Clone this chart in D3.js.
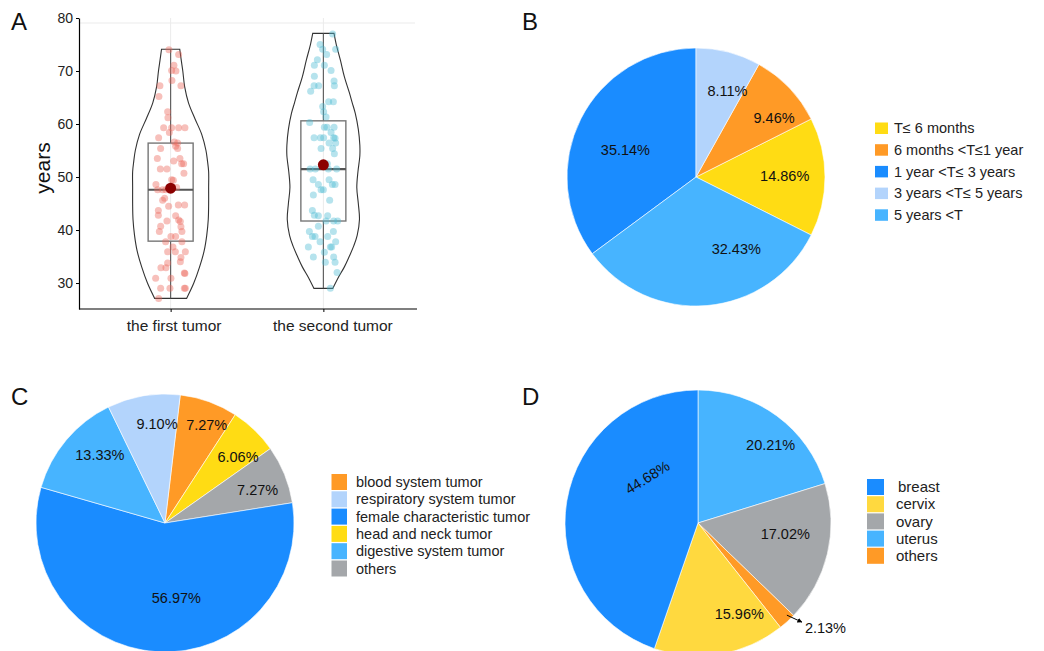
<!DOCTYPE html>
<html>
<head>
<meta charset="utf-8">
<script src="https://cdn.jsdelivr.net/npm/d3@7"></script>
<style>
  body { margin: 0; background: #fff; }
  svg { font-family: "Liberation Sans", Arial, Helvetica, sans-serif; }
</style>
</head>
<body>
<svg id="chart" width="1044" height="651"></svg>
<script>
// ---------- data ----------
const groups = ["the first tumor", "the second tumor"];

// ages of the 74 patients, first and second tumor
const firstAges = [74.0,73.1,71.1,70.1,70.0,67.2,67.2,68.2,65.2,62.3,61.2,59.3,59.3,59.3,59.3,58.4,57.4,56.6,56.4,55.8,
  55.4,55.4,53.5,53.5,52.5,52.5,51.5,51.5,50.7,49.5,49.4,48.6,47.6,47.6,47.6,45.6,44.7,44.7,43.7,42.8,
  41.7,42.7,41.9,41.6,40.7,40.6,39.7,39.7,38.8,38.8,37.8,37.8,36.8,35.9,35.9,35.9,34.8,34.0,33.8,32.9,
  32.9,31.9,31.8,30.9,30.9,29.0,29.0,29.0,29.0,27.1,53.0,44.5,48.0,46.0];
const secondAges = [77.0,75.0,74.1,74.1,73.1,72.1,71.1,71.1,70.1,69.0,68.1,67.2,67.2,67.2,66.2,64.2,64.2,63.3,62.3,61.3,
  60.3,59.4,59.4,59.4,58.4,57.4,57.4,57.4,57.4,57.3,56.4,56.4,55.4,55.4,54.4,51.5,51.5,51.5,51.5,49.5,
  49.5,48.6,48.6,48.6,47.6,47.6,46.6,45.6,43.7,42.8,42.7,42.7,41.7,41.7,41.7,40.7,39.7,39.7,38.8,38.8,
  38.8,37.8,37.8,36.8,36.8,36.8,35.8,34.9,34.9,33.9,33.9,32.0,29.0,52.5];

// horizontal jitter of each dot as drawn (px)
const firstJitter = [-1.7,8,3.3,1,5.3,-10.7,10.3,1.3,-11.7,-3,-2.7,-7,1,8,14.3,-1.3,-12,3.7,7,5,
  7,-10,-13.3,9.3,11,13,-10.3,-3.7,13.3,1,2.7,-14.7,-13,-8,-4.7,-8,7.7,14,-12.3,-12.3,
  -3.7,5,8,9.7,-10,10.3,-11.3,11.3,0.3,5,-5,11.3,2.3,-3,4.7,14.7,10.3,9.7,-3,-9.7,
  -4.7,13.7,14.3,-15,0.3,-10,-0.7,13.7,14.7,-12,3,-2,6,-6];
const secondJitter = [9.3,-3.3,-0.7,12.3,3.3,-6,-9,1,7.7,-9,10.7,-9.3,-4.7,11,-12.7,5.3,10,-0.7,0.3,2.7,
  -13.7,1,3.7,10.7,7.7,-9.3,-3,0.3,10.3,11.7,5.7,12.3,-2.3,9.3,11,-13.3,-8,5,13.3,-10.3,
  5.7,-5,9,11.7,-2.3,0,-10,6.3,-11,-9,-5,4.3,10.3,14.3,2.7,-5,-14,10,-11,-8.3,
  4.3,-3.3,12.3,-15,7,8.3,1,-10,10.3,2,11.7,13.7,7,4];

// violin outlines: age and relative density (1 = widest)
const firstViolinAges = [27.1,30,33,36,39,42,45,48,51,53,55,58,61,64,67,70,72,74.1];
const firstViolinDens = [0.42,0.61,0.76,0.88,0.95,0.99,1,1,1,0.97,0.93,0.82,0.64,0.47,0.37,0.32,0.28,0.24];
const secondViolinAges = [29,31,33,35,37,39,42,45,48,51,54,56,59,62,64,66,69,72,75,77.1];
const secondViolinDens = [0.25,0.39,0.55,0.68,0.80,0.89,0.95,0.92,0.88,0.91,0.96,0.96,0.92,0.84,0.76,0.68,0.55,0.45,0.34,0.28];

// box plot statistics
const boxMin = [27.1, 29.0];
const boxQ1 = [37.9, 41.7];
const boxMedian = [47.6, 51.5];
const boxQ3 = [56.4, 60.6];
const boxMax = [74.1, 77.1];
const boxMean = [47.9, 52.3];
const yTicks = [30, 40, 50, 60, 70, 80];

// B: time between the two tumors (%)
const durationLabels = ["T\u2264 6 months", "6 months <T\u22641 year", "1 year <T\u2264 3 years", "3 years <T\u2264 5 years", "5 years <T"];
const durationValues = [14.86, 9.46, 35.14, 8.11, 32.43];

// C: type of the first tumor (%)
const tumorLabels = ["blood system tumor", "respiratory system tumor", "female characteristic tumor", "head and neck tumor", "digestive system tumor", "others"];
const tumorValues = [7.27, 9.10, 56.97, 6.06, 13.33, 7.27];

// D: female characteristic tumors (%)
const femaleLabels = ["breast", "cervix", "ovary", "uterus", "others"];
const femaleValues = [44.68, 15.96, 17.02, 20.21, 2.13];

// ---------- colours ----------
const BLUE = "#1a8cff", SKY = "#47b4ff", LIGHT = "#b3d4fc", ORANGE = "#ff9a26",
      YELLOW = "#ffdc14", GREY = "#a4a7aa", YELLOW_D = "#ffd93f";

const svg = d3.select("#chart");

// ================= Panel A: violin + box + jitter =================
const y = d3.scaleLinear().domain([25.1, 80]).range([309, 18]);
const x = d3.scalePoint().domain(groups).range([79, 415]).padding(0.6);
const w = d3.scaleLinear().domain([0, 1]).range([0, 38]);

const gA = svg.append("g");

// light grid
gA.append("line").attr("x1", 79).attr("x2", 415).attr("y1", 23).attr("y2", 23)
  .attr("stroke", "#ebebeb");
groups.forEach(gname => {
  gA.append("line").attr("x1", x(gname)).attr("x2", x(gname)).attr("y1", 18).attr("y2", 309)
    .attr("stroke", "#ebebeb");
});

const violins = [
  {ages: firstViolinAges, dens: firstViolinDens},
  {ages: secondViolinAges, dens: secondViolinDens}
];
const dots = [
  {ages: firstAges, jit: firstJitter, color: "#ec6a5e"},
  {ages: secondAges, jit: secondJitter, color: "#52bdd5"}
];

groups.forEach((gname, i) => {
  const cx = x(gname);
  const prof = violins[i].ages.map((a, k) => ({age: a, d: violins[i].dens[k]}));
  const area = d3.area()
    .y(d => y(d.age))
    .x0(d => cx - w(d.d))
    .x1(d => cx + w(d.d))
    .curve(d3.curveCatmullRom);
  gA.append("path").attr("d", area(prof))
    .attr("fill", "none").attr("stroke", "#333").attr("stroke-width", 1.1);

  // whiskers
  gA.append("line").attr("x1", cx).attr("x2", cx).attr("y1", y(boxMax[i])).attr("y2", y(boxQ3[i]))
    .attr("stroke", "#555").attr("stroke-width", 1.1);
  gA.append("line").attr("x1", cx).attr("x2", cx).attr("y1", y(boxQ1[i])).attr("y2", y(boxMin[i]))
    .attr("stroke", "#555").attr("stroke-width", 1.1);
  // box
  gA.append("rect").attr("x", cx - 22.5).attr("width", 45)
    .attr("y", y(boxQ3[i])).attr("height", y(boxQ1[i]) - y(boxQ3[i]))
    .attr("fill", "none").attr("stroke", "#777").attr("stroke-width", 1.4);
  // median
  gA.append("line").attr("x1", cx - 22.5).attr("x2", cx + 22.5)
    .attr("y1", y(boxMedian[i])).attr("y2", y(boxMedian[i]))
    .attr("stroke", "#555").attr("stroke-width", 2.2);

  // jittered points
  gA.append("g").selectAll("circle")
    .data(dots[i].ages.map((a, k) => ({age: a, j: dots[i].jit[k]})))
    .enter().append("circle")
    .attr("cx", d => cx + d.j)
    .attr("cy", d => y(d.age))
    .attr("r", 3.5)
    .attr("fill", dots[i].color)
    .attr("fill-opacity", 0.42);

  // mean
  gA.append("circle").attr("cx", cx).attr("cy", y(boxMean[i])).attr("r", 5.5)
    .attr("fill", "#8b0000");
});

// axes
const yAxis = gA.append("g").attr("transform", "translate(79,0)")
  .call(d3.axisLeft(y).tickValues(yTicks).tickSize(3).tickSizeOuter(0));
yAxis.selectAll("text").attr("font-size", 14).attr("fill", "#222")
  .attr("font-family", "Liberation Sans, Arial, sans-serif");
yAxis.select(".domain").attr("stroke", "#000").attr("stroke-width", 1.2);

const labelShift = [3, 9];
const xAxis = gA.append("g").attr("transform", "translate(0,309)")
  .call(d3.axisBottom(x).tickSize(3).tickSizeOuter(0));
xAxis.select(".domain").remove();
xAxis.selectAll("text").attr("font-size", 15.5).attr("fill", "#222").attr("dy", "1.05em")
  .attr("font-family", "Liberation Sans, Arial, sans-serif")
  .attr("dx", (d, i) => labelShift[i]);
gA.append("line").attr("x1", 79).attr("x2", 417).attr("y1", 309).attr("y2", 309)
  .attr("stroke", "#000").attr("stroke-width", 1.2);

gA.append("text").attr("transform", "translate(50,168) rotate(-90)")
  .attr("text-anchor", "middle").attr("font-size", 21).attr("fill", "#111").text("years");

// ================= pie helper =================
function drawPie(cfg) {
  const g = svg.append("g").attr("transform", `translate(${cfg.cx},${cfg.cy})`);
  const items = cfg.labels.map((l, i) => ({label: l, value: cfg.values[i], color: cfg.colors[i], idx: i}));
  const ordered = cfg.order ? cfg.order.map(i => items[i]) : items;
  const pie = d3.pie().value(d => d.value).startAngle(cfg.start || 0).endAngle((cfg.start || 0) + 2 * Math.PI);
  if (cfg.sortAsc) pie.sort((a, b) => a.value - b.value); else pie.sort(null);
  const arcs = pie(ordered);
  const arc = d3.arc().innerRadius(0).outerRadius(cfg.r);
  const labelArc = d3.arc().innerRadius(cfg.labelR).outerRadius(cfg.labelR);

  g.selectAll("path").data(arcs).enter().append("path")
    .attr("d", arc)
    .attr("fill", d => d.data.color)
    .attr("stroke", "#fff").attr("stroke-width", 0.6);

  arcs.forEach(a => {
    const n = cfg.nudge[a.data.idx];
    if (!n) return;
    const c = labelArc.centroid(a);
    const px = c[0] + n[0], py = c[1] + n[1];
    g.append("text")
      .attr("transform", `translate(${px},${py}) rotate(${n[2] || 0})`)
      .attr("text-anchor", "middle").attr("dy", "0.36em")
      .attr("font-size", cfg.fontSize).attr("fill", "#111")
      .text(a.data.value.toFixed(2) + "%");
  });

  // legend
  const lg = svg.append("g");
  items.forEach((it, i) => {
    const top = cfg.legend.y + i * cfg.legend.step;
    lg.append("rect").attr("x", cfg.legend.x).attr("y", top)
      .attr("width", cfg.legend.w).attr("height", cfg.legend.h).attr("fill", it.color);
    lg.append("text").attr("x", cfg.legend.tx + (cfg.legend.txShift ? cfg.legend.txShift[i] : 0))
      .attr("y", top + cfg.legend.h / 2).attr("dy", "0.35em")
      .attr("font-size", cfg.legend.fontSize).attr("fill", "#222").text(it.label);
  });
  return {g, arcs, arc};
}

// ================= Panel B =================
drawPie({
  cx: 696, cy: 177, r: 129, labelR: 88, fontSize: 14.5,
  labels: durationLabels, values: durationValues,
  colors: [YELLOW, ORANGE, BLUE, LIGHT, SKY],
  sortAsc: true,
  nudge: [[0.7, -1.3], [14.5, 1.2], [8, 12.6], [9.3, -1.1], [32.8, -16.4]],
  legend: {x: 875, y: 122.5, step: 21.7, w: 13, h: 11.5, tx: 894, fontSize: 14.5}
});

// ================= Panel C =================
drawPie({
  cx: 165, cy: 523, r: 129, labelR: 90, fontSize: 14.5,
  start: 6.8 * Math.PI / 180,
  labels: tumorLabels, values: tumorValues,
  colors: [ORANGE, LIGHT, BLUE, YELLOW, SKY, GREY],
  order: [0, 3, 5, 2, 4, 1],
  nudge: [[11.1, -13.6], [7, -10.3], [16.9, -15.1], [10.6, -1.6], [3.8, -10], [9.3, 0.4]],
  legend: {x: 331.5, y: 474, step: 17.3, w: 15.5, h: 16, tx: 356, fontSize: 14.5}
});

// ================= Panel D =================
const pd = drawPie({
  cx: 698, cy: 523, r: 133, labelR: 93, fontSize: 14.5,
  labels: femaleLabels, values: femaleValues,
  colors: [BLUE, YELLOW_D, GREY, SKY, ORANGE],
  order: [3, 2, 4, 1, 0],
  nudge: [[41, -30.2, -32], [25.8, -1.4], [-3.2, -10.6], [17.5, -3.2], null],
  legend: {x: 867, y: 479, step: 17.2, w: 17, h: 16, tx: 896, fontSize: 15, txShift: [2, 0, 0, 0, 0]}
});

// small slice: label outside with an arrow
svg.append("defs").append("marker").attr("id", "arrowhead")
  .attr("viewBox", "0 0 10 10").attr("refX", 9).attr("refY", 5)
  .attr("markerWidth", 5).attr("markerHeight", 5).attr("orient", "auto")
  .append("path").attr("d", "M0,0 L10,5 L0,10 z").attr("fill", "#000");
const small = pd.arcs.find(a => a.data.label === "others");
const edgeArc = d3.arc().innerRadius(131).outerRadius(131);
const e = edgeArc.centroid(small);
pd.g.append("line").attr("x1", e[0] + 1).attr("y1", e[1] - 5)
  .attr("x2", e[0] + 16).attr("y2", e[1] + 2)
  .attr("stroke", "#000").attr("stroke-width", 1).attr("marker-end", "url(#arrowhead)");
pd.g.append("text").attr("x", e[0] + 19).attr("y", e[1] + 8).attr("dy", "0.35em")
  .attr("font-size", 14.5).attr("fill", "#111").text(small.data.value.toFixed(2) + "%");

// ================= panel letters =================
const letters = [["A", 11, 30], ["B", 522, 30], ["C", 11, 405], ["D", 522, 405]];
svg.selectAll("text.letter").data(letters).enter().append("text")
  .attr("class", "letter")
  .attr("x", d => d[1]).attr("y", d => d[2])
  .attr("font-size", 24).attr("fill", "#111")
  .text(d => d[0]);
</script>
</body>
</html>
